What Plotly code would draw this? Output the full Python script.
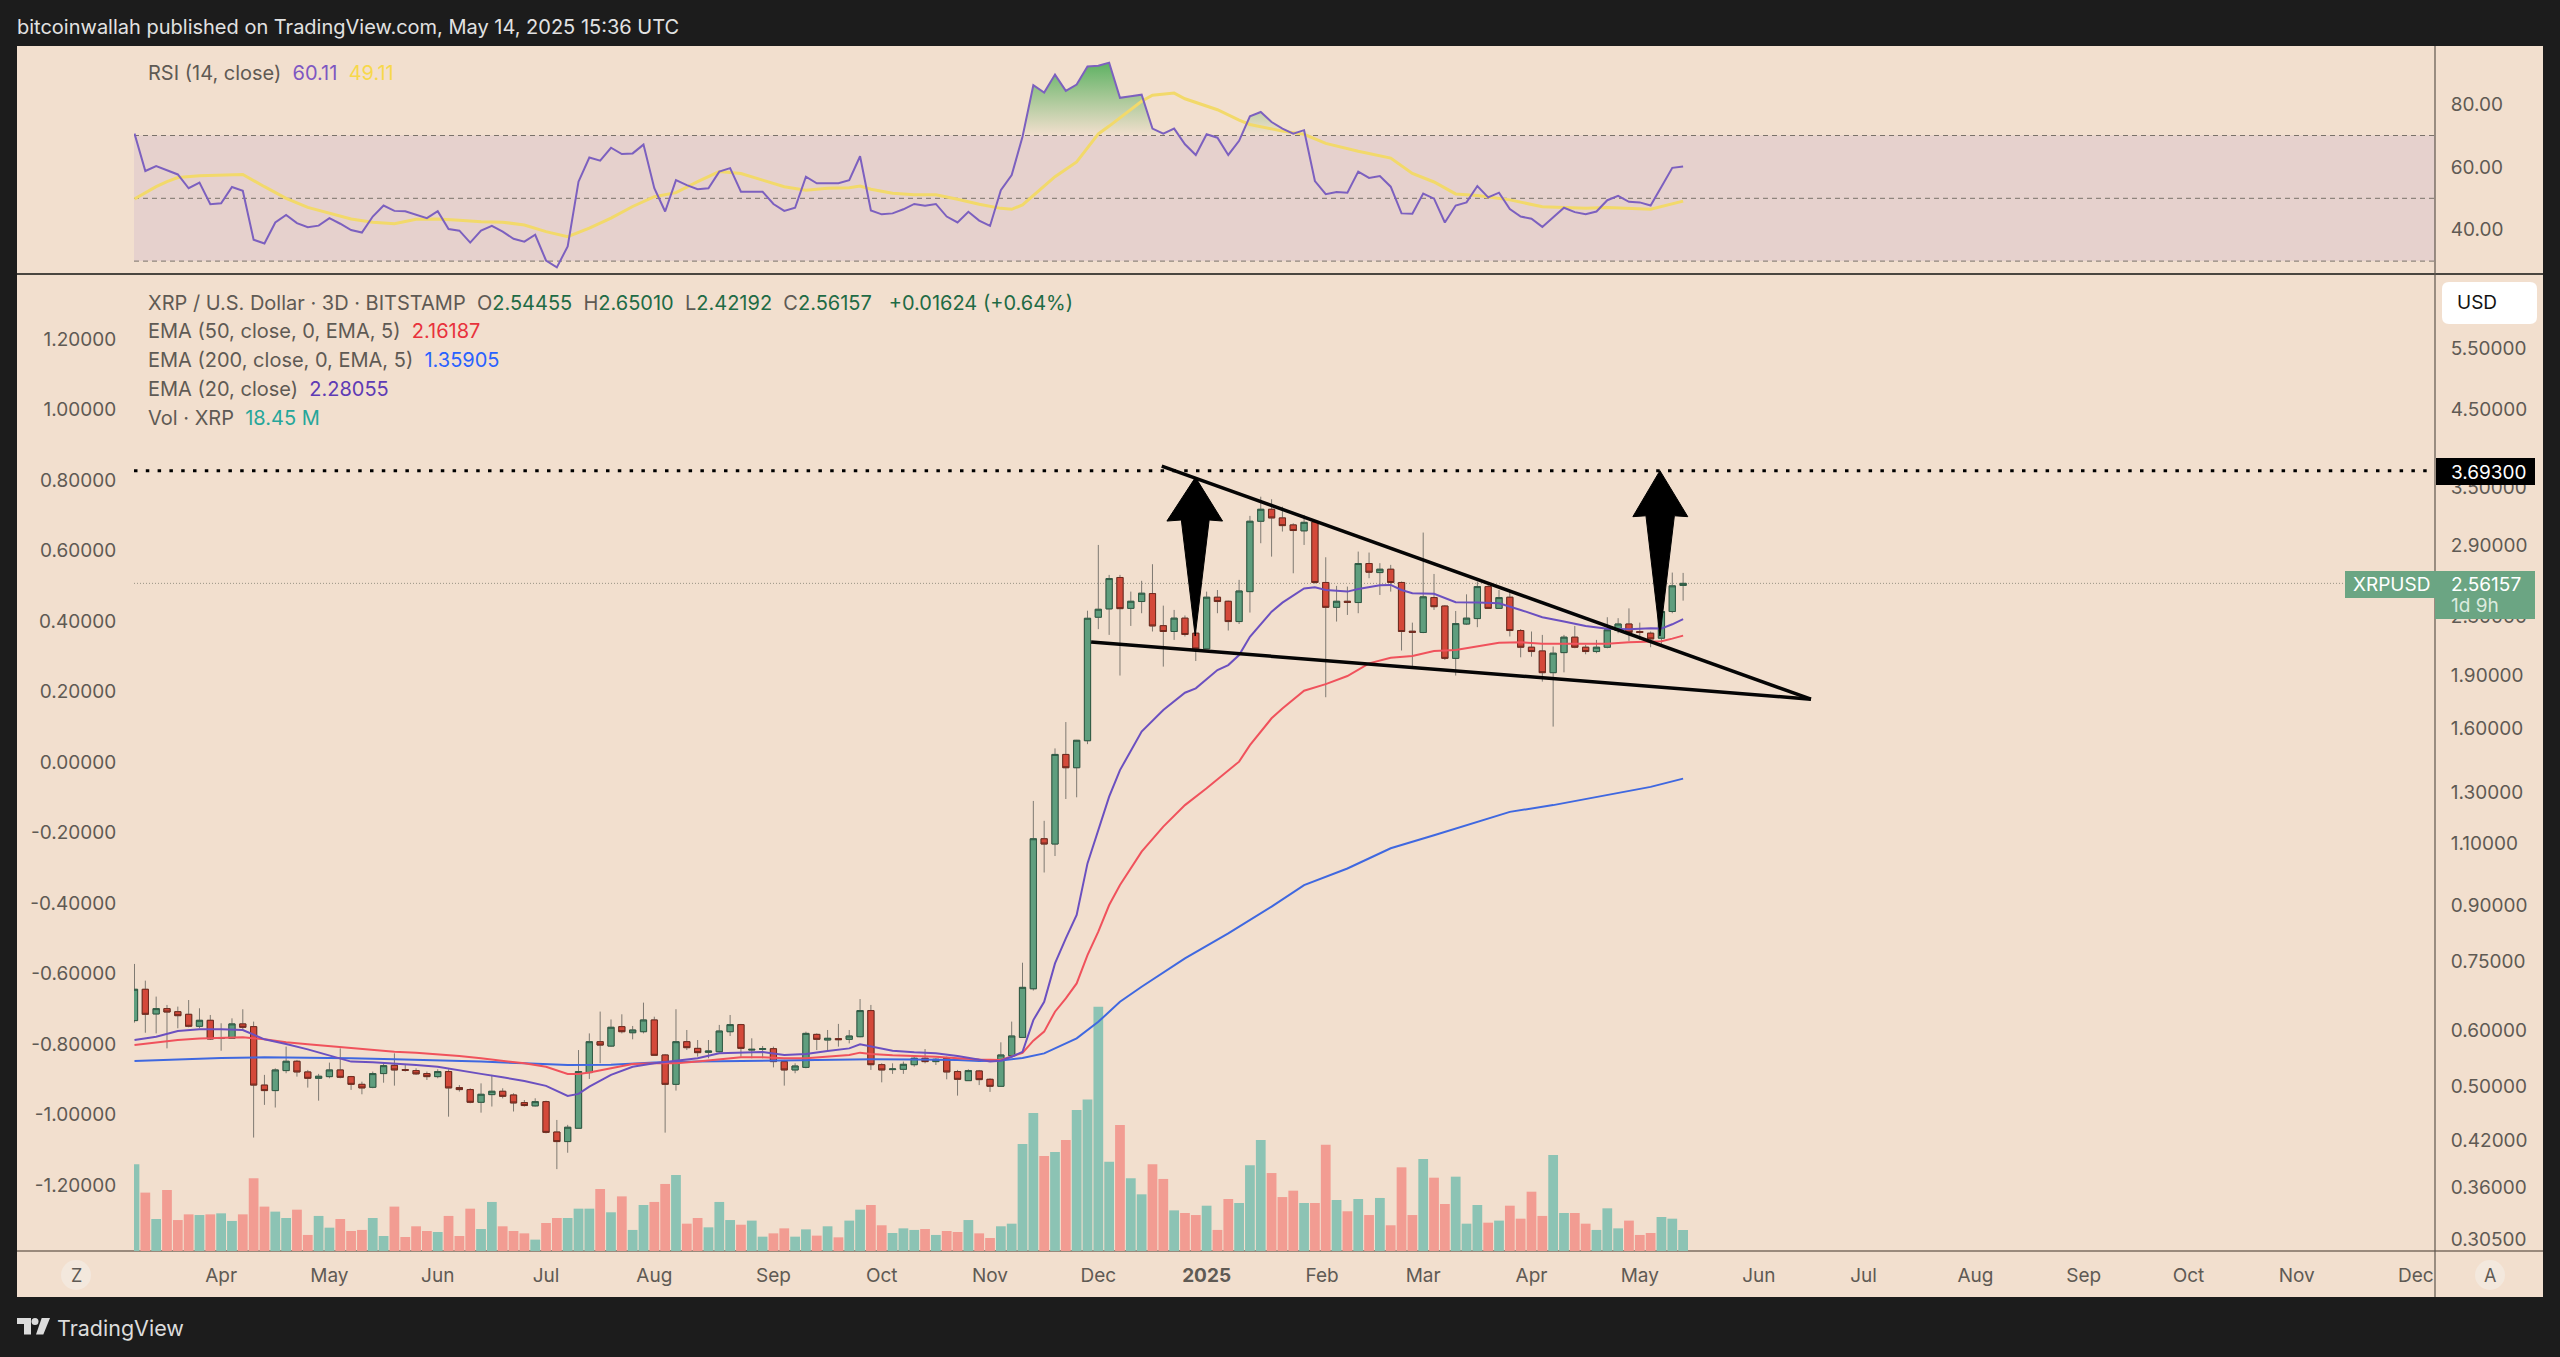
import pandas as pd
import plotly.graph_objects as go

# ---------- data ----------
first_bar = "2024-03-09"

opens = [
.6195,.6858,.633,.6441,.6377,.6323,.6082,.6201,.5845,.5849,
.6129,.6075,.5025,.4936,.5267,.5429,.5244,.5137,.5165,.5278,
.5165,.5037,.4989,.5216,.5358,.5284,.5267,.5216,.5165,.5250,
.4984,.4952,.4752,.4872,.4925,.4866,.4747,.4697,.4762,.4315,
.4183,.4368,.5233,.5785,.5703,.6075,.5956,.5976,.6208,.5541,
.5037,.5785,.5661,.5589,.5600,.5976,.6115,.5630,.5643,.5655,
.5423,.5278,.5322,.5924,.5817,.5843,.5830,.5880,.6400,.5369,
.5284,.5289,.5369,.5482,.5423,.5482,.5250,.5098,.5261,.5120,
.5005,.5529,.5866,.687,1.118,1.099,1.470,1.408,1.537,2.295,
2.358,2.611,2.362,2.415,2.478,2.233,2.191,2.288,2.179,2.071,
2.449,2.417,2.263,2.494,3.134,3.258,3.168,3.097,3.038,3.127,
2.569,2.370,2.417,2.407,2.732,2.653,2.682,2.569,2.193,2.184,
2.446,2.380,2.008,2.245,2.285,2.535,2.362,2.449,2.198,2.082,
2.057,1.917,2.046,2.151,2.082,2.053,2.082,2.198,2.245,2.191,
2.179,2.144,2.338,2.54455]

highs = [
.7446,.7053,.6697,.6518,.6483,.6623,.6448,.6309,.6142,.6241,
.6427,.6175,.5194,.5306,.5693,.5452,.5278,.5211,.5405,.5661,
.5177,.5081,.5250,.5393,.5571,.5364,.5306,.5250,.5289,.5289,
.5025,.4973,.5053,.5194,.4973,.4893,.4787,.4814,.4777,.4487,
.4416,.5630,.5943,.6379,.6218,.6323,.6088,.6567,.6274,.5559,
.6428,.6009,.5817,.5817,.6109,.6309,.6129,.5849,.5705,.5693,
.5452,.5393,.5976,.5943,.6009,.6129,.6009,.6644,.6518,.5393,
.5393,.5423,.5511,.5649,.5482,.5511,.5278,.5289,.5278,.5137,
.5773,.6175,.7476,1.264,1.185,1.499,1.633,1.541,2.344,2.902,
2.633,2.633,2.494,2.583,2.726,2.383,2.350,2.308,2.191,2.494,
2.507,2.422,2.591,3.189,3.394,3.366,3.286,3.113,3.199,3.147,
2.788,2.541,2.535,2.840,2.831,2.735,2.720,2.577,2.255,3.021,
2.641,2.388,2.342,2.472,2.577,2.549,2.507,2.507,2.208,2.191,
2.167,2.087,2.167,2.231,2.098,2.132,2.295,2.288,2.362,2.255,
2.191,2.427,2.653,2.6501]

lows = [
.6155,.5956,.5943,.5661,.6042,.6062,.6042,.5817,.5618,.5840,
.6009,.4238,.4712,.4672,.5222,.5165,.4984,.4777,.5137,.5137,
.4947,.4877,.4974,.5064,.5016,.5250,.5194,.5109,.5137,.4535,
.4920,.4737,.4595,.4687,.4813,.4612,.4687,.4687,.4296,.3825,
.4034,.4368,.5126,.5393,.5690,.5943,.5830,.5943,.5526,.4306,
.4936,.5630,.5512,.5482,.5583,.5893,.5512,.5482,.5482,.5322,
.5016,.5222,.5306,.5630,.5630,.5693,.5754,.5868,.5278,.5070,
.5211,.5211,.5334,.5393,.5364,.5120,.4856,.5092,.5025,.4915,
.5000,.5512,.5866,.683,1.002,1.057,1.272,1.279,1.520,2.208,
2.167,1.899,2.231,2.325,2.191,1.955,2.132,2.156,1.991,2.069,
2.325,2.198,2.245,2.330,2.918,2.794,3.031,2.647,2.902,2.557,
1.770,2.263,2.312,2.325,2.605,2.467,2.494,2.060,1.945,2.179,
2.350,1.998,1.899,2.238,2.222,2.358,2.358,2.156,2.015,2.019,
1.862,1.609,1.919,2.075,2.035,2.042,2.075,2.179,2.125,2.132,
2.082,2.105,2.325,2.42192]

closes = [
.6858,.6323,.6441,.637,.6295,.6082,.6201,.5836,.5855,.6129,
.6062,.5025,.4936,.5278,.5429,.5244,.5137,.5171,.5278,.5154,
.5037,.4979,.5216,.5352,.5278,.5272,.5211,.5165,.5250,.4979,
.4952,.4752,.4877,.4925,.4845,.4742,.4702,.4762,.4310,.4183,
.4382,.5250,.5785,.5722,.6062,.5976,.6009,.6208,.5535,.5037,
.5785,.5674,.5583,.5612,.5989,.6115,.5661,.5643,.5655,.5423,
.5278,.5346,.5943,.5830,.5849,.5824,.5893,.6400,.5369,.5278,
.5295,.5375,.5482,.5423,.5464,.5244,.5120,.5267,.5115,.5005,
.5541,.5893,.6901,1.118,1.099,1.470,1.408,1.539,2.287,2.355,
2.602,2.360,2.417,2.481,2.231,2.191,2.288,2.170,2.071,2.449,
2.415,2.263,2.499,3.134,3.258,3.168,3.090,3.041,3.123,2.569,
2.370,2.417,2.409,2.732,2.656,2.682,2.569,2.191,2.186,2.452,
2.375,2.008,2.248,2.288,2.535,2.362,2.446,2.198,2.082,2.053,
1.917,2.042,2.151,2.082,2.053,2.082,2.203,2.245,2.184,2.184,
2.139,2.338,2.541,2.56157]

volumes = [
76.2,51.3,28.1,53.6,27.2,32.2,31.6,32.2,33.1,26.4,
32.2,63.9,39.0,34.6,29.0,36.3,14.1,30.8,20.5,28.1,
17.6,18.5,29.0,13.2,39.0,12.3,21.7,17.6,16.7,30.8,
13.2,37.2,19.3,43.1,21.7,17.6,15.5,10.0,24.6,29.0,
29.0,37.2,37.2,54.5,34.0,48.0,18.5,40.4,43.1,58.9,
66.8,24.0,29.0,20.8,43.1,27.2,23.1,26.7,12.6,15.5,
19.9,12.6,19.0,13.5,21.7,12.0,26.7,36.3,40.4,22.6,
15.8,19.9,18.5,19.3,14.1,17.6,16.7,27.2,15.5,11.4,
21.7,24.0,94.0,121.3,83.5,87.0,97.5,123.9,133.0,214.7,
78.5,110.7,63.9,49.8,76.2,63.3,35.7,33.4,31.6,39.8,
18.5,45.7,42.2,75.3,97.5,68.5,47.4,53.0,42.2,42.2,
93.4,44.8,34.9,45.7,31.6,46.6,22.6,73.5,31.6,80.8,
64.4,41.3,65.3,24.0,40.4,24.9,26.7,39.8,28.4,52.1,
30.8,84.4,33.4,33.4,24.0,18.5,37.5,19.9,26.7,14.1,
15.8,29.9,28.4,18.45]

rsi = [
70.6,58.7,60.3,59.0,57.6,53.2,55.0,48.1,48.4,53.6,
52.4,36.8,35.6,42.3,44.7,42.1,40.8,41.3,43.7,41.9,
39.9,39.1,44.2,47.7,46.0,45.9,44.8,43.7,45.9,40.2,
39.7,35.9,39.7,41.2,39.4,37.1,36.2,38.4,30.2,28.0,
34.7,55.3,63.0,62.0,66.1,64.1,64.3,67.1,53.2,45.8,
55.8,54.2,52.9,53.2,58.5,59.6,52.1,52.0,52.1,48.2,
46.0,47.0,56.9,54.8,54.8,54.8,55.8,63.4,46.1,44.9,
45.2,46.5,48.2,47.6,48.2,44.2,42.3,45.7,42.9,41.2,
52.6,57.4,69.6,86.0,83.7,89.4,84.2,86.2,92.0,92.2,
93.2,82.0,82.5,83.0,72.2,70.6,72.2,67.2,63.8,70.4,
69.3,63.8,68.3,76.1,77.5,74.3,72.2,70.6,71.7,55.5,
51.3,52.0,51.8,58.5,56.5,57.1,53.7,45.2,45.1,51.5,
49.9,42.3,47.7,48.7,53.9,50.3,51.8,46.6,44.2,43.5,
40.9,44.0,47.0,45.6,44.9,45.8,49.4,50.8,48.9,48.7,
47.7,53.7,59.7,60.11]

rsi_ma_bar = [0,2,3,4,6,8,10,12,14,16,18,20,22,24,26,28,30,32,34,36,38,40,42,44,46,48,50,52,54,56,58,60,62,64,66,67,68,70,72,74,76,78,80,81,82,85,87,89,90,93,94,96,97,100,102,103,106,108,110,113,116,118,120,122,124,127,130,132,134,136,140,143]
rsi_ma = [49.8,53.7,55.3,56.6,57.2,57.3,57.6,53.7,50.0,47.1,45.2,43.4,42.4,41.9,43.3,43.4,43.0,42.5,42.4,41.5,39.4,37.8,40.5,43.7,47.4,50.5,51.8,55.3,58.5,57.9,55.8,53.7,52.6,53.2,53.4,53.9,52.9,51.6,51.1,51.1,49.7,48.1,46.8,46.5,47.9,56.9,61.6,70.5,73.0,80.9,82.8,83.5,81.7,78.2,74.9,73.5,71.4,70.4,67.5,65.0,62.8,57.9,55.2,51.4,50.9,49.5,47.3,47.1,46.8,47.1,46.5,49.11]

ema20_bar = [0,2,4,6,8,10,12,14,16,18,20,22,24,26,28,30,32,34,36,38,39,40,41,42,44,46,48,50,52,54,56,58,60,62,64,66,67,68,70,72,74,76,78,79,80,81,82,83,84,85,86,87,88,89,90,91,93,95,97,98,100,101,102,103,105,106,108,109,110,112,113,115,116,117,118,120,121,122,124,126,128,130,132,134,136,138,140,141,142,143]
ema20 = [.5817,.5880,.5989,.6022,.6022,.6009,.5830,.5743,.5643,.5535,.5423,.5411,.5393,.5364,.5334,.5278,.5211,.5154,.5092,.5012,.4930,.4851,.4883,.5000,.5194,.5334,.5393,.5441,.5482,.5571,.5589,.5595,.5541,.5559,.5612,.5661,.5736,.5693,.5618,.5589,.5571,.5523,.5464,.5423,.5438,.551,.5598,.6206,.6585,.7460,.8090,.8729,1.032,1.150,1.282,1.397,1.583,1.698,1.796,1.822,1.933,1.965,2.030,2.154,2.337,2.406,2.520,2.530,2.507,2.494,2.515,2.546,2.549,2.507,2.481,2.476,2.442,2.410,2.407,2.402,2.350,2.295,2.263,2.231,2.210,2.208,2.214,2.212,2.243,2.28055]

ema50_bar = [0,2,4,6,8,10,12,14,16,18,20,22,24,26,28,30,32,34,36,38,39,40,41,42,44,46,48,50,52,54,56,58,60,62,64,66,67,68,70,72,74,76,78,80,82,83,84,85,86,87,88,89,90,91,93,95,97,99,101,102,103,105,106,108,110,111,112,114,116,118,120,122,124,126,128,130,132,134,136,138,140,141,142,143]
ema50 = [.5723,.5767,.5817,.5843,.5855,.5868,.5830,.5773,.5736,.5705,.5674,.5630,.5600,.5583,.5559,.5523,.5482,.5441,.5393,.5334,.5278,.5211,.5211,.5233,.5306,.5381,.5393,.5393,.5423,.5464,.5500,.5500,.5482,.5482,.5511,.5541,.5583,.5559,.5535,.5523,.5511,.5482,.5458,.5450,.5580,.5804,.5977,.6377,.6658,.6990,.7664,.8268,.9015,.9619,1.072,1.163,1.247,1.317,1.397,1.436,1.515,1.653,1.707,1.808,1.847,1.872,1.896,1.976,2.012,2.023,2.057,2.063,2.090,2.113,2.116,2.105,2.105,2.105,2.105,2.116,2.121,2.123,2.141,2.16187]

ema200_bar = [0,4,8,12,16,20,24,28,32,36,40,44,48,52,56,60,64,68,72,76,78,80,82,84,87,89,91,93,97,101,105,108,112,116,120,124,127,131,136,140,143]
ema200 = [.5432,.5464,.5488,.5500,.5494,.5482,.5464,.5447,.5423,.5393,.5364,.5370,.5405,.5423,.5435,.5441,.5447,.5464,.5458,.5452,.5435,.5441,.5488,.557,.5848,.6171,.6585,.6915,.7581,.8223,.8967,.9619,1.015,1.084,1.131,1.181,1.220,1.247,1.288,1.323,1.35905]

resistance_price = 3.693
last_price = 2.56157
rsi_levels = [30, 50, 70]

wedge_top_x = ["2024-12-18 14:00", "2025-06-16 10:00"]
wedge_top_y = [3.749, 1.759]
wedge_low_x = ["2024-11-29 00:00", "2025-06-16 10:00"]
wedge_low_y = [2.118, 1.759]

arrow1_x = ["2024-12-27 22:00","2024-12-20 00:00","2024-12-24 00:00","2024-12-27 20:00","2024-12-31 17:00","2025-01-04 10:00","2024-12-27 22:00"]
arrow1_y = [3.614,3.136,3.147,2.159,3.147,3.136,3.614]
arrow2_x = ["2025-05-05 14:00","2025-04-28 02:00","2025-05-01 17:00","2025-05-05 14:00","2025-05-09 14:00","2025-05-13 07:00","2025-05-05 14:00"]
arrow2_y = [3.693,3.181,3.19,2.159,3.19,3.181,3.693]

month_labels = ["Apr","May","Jun","Jul","Aug","Sep","Oct","Nov","Dec","<b>2025</b>","Feb","Mar","Apr","May","Jun","Jul","Aug","Sep","Oct","Nov","Dec"]
month_dates = ["2024-04-02","2024-05-02","2024-06-01","2024-07-01","2024-07-31","2024-09-02","2024-10-02","2024-11-01","2024-12-01","2024-12-31",
               "2025-02-01","2025-03-01","2025-03-31","2025-04-30","2025-06-02","2025-07-01","2025-08-01","2025-08-31","2025-09-29","2025-10-29","2025-12-01"]
right_ticks = [5.5,4.5,3.5,2.9,2.3,1.9,1.6,1.3,1.1,0.9,0.75,0.6,0.5,0.42,0.36,0.305]
left_ticks = [1.2,1.0,0.8,0.6,0.4,0.2,0.0,-0.2,-0.4,-0.6,-0.8,-1.0,-1.2]
rsi_ticks = [80,60,40]

# ---------- styling ----------
W, H = 2560, 1357
DARK = "#1C1C1C"
PANEL = "#F2DFCE"
TXT = "#5F5A54"
FONT = "Inter, 'Open Sans', sans-serif"
GREEN, RED = "#5F9E7E", "#D4493A"
GREEN_D, RED_D = "#2F5A44", "#6E2A1E"
VOL_G, VOL_R = "#8CC3B4", "#F29C92"
PLOT_L, PLOT_R, SPLIT, BASE, TOP, BOTTOM, PANEL_L, PANEL_R = 134, 2435, 274, 1251, 46, 1297, 17, 2543

def px(x): return x / W
def py(y): return 1 - y / H

dates = pd.date_range(first_bar, periods=len(closes), freq="3D")
x_of = lambda idx: [dates[i] for i in idx]

fig = go.Figure()

# volume (base axis, drawn first)
fig.add_trace(go.Bar(x=dates, y=volumes, marker=dict(color=[VOL_G if c >= o else VOL_R for o, c in zip(opens, closes)], line=dict(width=0)),
                     xaxis="x", yaxis="y", hoverinfo="skip"))
# left scale carrier
fig.add_trace(go.Scatter(x=[dates[0], dates[-1]], y=[left_ticks[0], left_ticks[-1]], mode="lines", line=dict(color="rgba(0,0,0,0)"),
                         xaxis="x", yaxis="y3", hoverinfo="skip"))
# wicks, then bodies
fig.add_trace(go.Candlestick(x=dates, open=opens, high=highs, low=lows, close=closes, xaxis="x", yaxis="y2", hoverinfo="skip",
                             increasing=dict(line=dict(color="#7F7A72", width=1), fillcolor=GREEN),
                             decreasing=dict(line=dict(color="#7F7A72", width=1), fillcolor=RED)))
fig.add_trace(go.Candlestick(x=dates, open=opens, close=closes,
                             high=[max(o, c) for o, c in zip(opens, closes)], low=[min(o, c) for o, c in zip(opens, closes)],
                             xaxis="x", yaxis="y2", hoverinfo="skip",
                             increasing=dict(line=dict(color=GREEN_D, width=1), fillcolor=GREEN),
                             decreasing=dict(line=dict(color=RED_D, width=1), fillcolor=RED)))
# EMAs
for idx, vals, col in [(ema200_bar, ema200, "#3F68E0"), (ema50_bar, ema50, "#F0525C"), (ema20_bar, ema20, "#6B50C0")]:
    fig.add_trace(go.Scatter(x=x_of(idx), y=vals, mode="lines", line=dict(color=col, width=2), xaxis="x", yaxis="y2", hoverinfo="skip"))
# drawings
fig.add_trace(go.Scatter(x=wedge_top_x, y=wedge_top_y, mode="lines", line=dict(color="#050505", width=3.5), xaxis="x", yaxis="y2", hoverinfo="skip"))
fig.add_trace(go.Scatter(x=wedge_low_x, y=wedge_low_y, mode="lines", line=dict(color="#050505", width=3.5), xaxis="x", yaxis="y2", hoverinfo="skip"))
for ax, ay in [(arrow1_x, arrow1_y), (arrow2_x, arrow2_y)]:
    fig.add_trace(go.Scatter(x=ax, y=ay, mode="lines", fill="toself", fillcolor="#000000", line=dict(color="#000000", width=1),
                             xaxis="x", yaxis="y2", hoverinfo="skip"))
# RSI
fig.add_trace(go.Scatter(x=dates, y=[70] * len(rsi), mode="lines", line=dict(color="rgba(0,0,0,0)"), xaxis="x2", yaxis="y4", hoverinfo="skip"))
fig.add_trace(go.Scatter(x=dates, y=[max(v, 70) for v in rsi], mode="lines", line=dict(color="rgba(0,0,0,0)"), fill="tonexty",
                         fillgradient=dict(type="vertical", start=70, stop=93,
                                           colorscale=[[0, "rgba(100,180,100,0)"], [1, "rgba(95,178,100,1)"]]),
                         xaxis="x2", yaxis="y4", hoverinfo="skip"))
fig.add_trace(go.Scatter(x=x_of(rsi_ma_bar), y=rsi_ma, mode="lines", line=dict(color="#F2D96A", width=3), xaxis="x2", yaxis="y4", hoverinfo="skip"))
fig.add_trace(go.Scatter(x=dates, y=rsi, mode="lines", line=dict(color="#7C60BF", width=2), xaxis="x2", yaxis="y4", hoverinfo="skip"))

# ---------- shapes ----------
def rect(x0, y0, x1, y1, fill, layer="below"):
    return dict(type="rect", xref="paper", yref="paper", x0=px(x0), x1=px(x1), y0=py(y0), y1=py(y1),
                fillcolor=fill, line=dict(width=0), layer=layer)

def rrect(x0, y0, x1, y1, r, fill, layer="above"):
    X0, X1, Y0, Y1 = px(x0), px(x1), py(y0), py(y1)
    rx, ry = r / W, r / H
    path = (f"M{X0+rx},{Y0} L{X1-rx},{Y0} Q{X1},{Y0} {X1},{Y0-ry} L{X1},{Y1+ry} Q{X1},{Y1} {X1-rx},{Y1} "
            f"L{X0+rx},{Y1} Q{X0},{Y1} {X0},{Y1+ry} L{X0},{Y0-ry} Q{X0},{Y0} {X0+rx},{Y0} Z")
    return dict(type="path", xref="paper", yref="paper", path=path, fillcolor=fill, line=dict(width=0), layer=layer)

def hline(y, x0, x1, col, w, layer="below"):
    return dict(type="line", xref="paper", yref="paper", x0=px(x0), x1=px(x1), y0=py(y), y1=py(y), line=dict(color=col, width=w), layer=layer)

def vline(x, y0, y1, col, w):
    return dict(type="line", xref="paper", yref="paper", x0=px(x), x1=px(x), y0=py(y0), y1=py(y1), line=dict(color=col, width=w), layer="below")

def circle(cx, cy, r, fill):
    return dict(type="circle", xref="paper", yref="paper", x0=px(cx - r), x1=px(cx + r), y0=py(cy - r), y1=py(cy + r),
                fillcolor=fill, line=dict(width=0), layer="below")

def poly(points, fill):
    path = "M" + " L".join(f"{px(a)},{py(b)}" for a, b in points) + " Z"
    return dict(type="path", xref="paper", yref="paper", path=path, fillcolor=fill, line=dict(width=0), layer="above")

shapes = [rect(PANEL_L, TOP, PANEL_R, BOTTOM, PANEL),
          dict(type="rect", xref="paper", yref="y4", x0=px(PLOT_L), x1=px(PLOT_R), y0=rsi_levels[0], y1=rsi_levels[2],
               fillcolor="rgba(126,87,194,0.10)", line=dict(width=0), layer="below")]
for lv in rsi_levels:
    shapes.append(dict(type="line", xref="paper", yref="y4", x0=px(PLOT_L), x1=px(PLOT_R), y0=lv, y1=lv,
                       line=dict(color="#7A726A", width=1, dash="5px,4px"), layer="below"))
shapes += [hline(SPLIT, PANEL_L, PANEL_R, "#4A4640", 2),
           hline(BASE, PANEL_L, PANEL_R, "#7C6E60", 1.5),
           vline(PLOT_R, TOP, BOTTOM, "#5E564E", 1.2),
           circle(76, 1275, 15, "#F3E8DD"), circle(2490, 1275, 15, "#F3E8DD"),
           dict(type="line", xref="paper", yref="y2", x0=px(PLOT_L), x1=px(PLOT_R), y0=last_price, y1=last_price,
                line=dict(color="#9A9486", width=1, dash="1px,2px"), layer="below"),
           dict(type="line", xref="paper", yref="y2", x0=px(PLOT_L), x1=px(PLOT_R), y0=resistance_price, y1=resistance_price,
                line=dict(color="#000000", width=3, dash="3.5px,8.3px"), layer="above"),
           rrect(2442, 282, 2537, 324, 7, "#FFFFFF"),
           rect(2436, 458, 2535, 485, "#000000", "above"),
           rect(2345, 571, 2435, 598, "#6BA583", "above"),
           rect(2435, 571, 2535, 619, "#6BA583", "above"),
           poly([(17, 1318), (31, 1318), (31, 1334.5), (24, 1334.5), (24, 1324), (17, 1324)], "#DCDCDC"),
           poly([(41.7, 1318), (50, 1318), (43.3, 1334.5), (36, 1334.5)], "#DCDCDC"),
           dict(type="circle", xref="paper", yref="paper", x0=px(31.5), x1=px(38.5), y0=py(1318), y1=py(1325),
                fillcolor="#DCDCDC", line=dict(width=0), layer="above")]

# ---------- text ----------
SZ = 20
def ann(x, y, text, size=SZ, color=TXT, xa="left"):
    return dict(xref="paper", yref="paper", x=px(x), y=py(y), text=text, showarrow=False, xanchor=xa, yanchor="middle",
                font=dict(size=size, color=color, family=FONT), align="left", borderpad=0, borderwidth=0)

def sp(t, c): return f'<span style="color:{c}">{t}</span>'

VAL = "#1F6B45"
annotations = [
    ann(17, 27, "bitcoinwallah published on TradingView.com, May 14, 2025 15:36 UTC", 20, "#E2E2E2"),
    ann(148, 73, "RSI (14, close)  " + sp("60.11", "#7E57C2") + "  " + sp("49.11", "#F7D84B")),
    ann(148, 303, "XRP / U.S. Dollar · 3D · BITSTAMP  O" + sp("2.54455", VAL) + "  H" + sp("2.65010", VAL) + "  L" + sp("2.42192", VAL)
        + "  C" + sp("2.56157", VAL) + "&nbsp;&nbsp;&nbsp;" + sp("+0.01624 (+0.64%)", VAL)),
    ann(148, 331, "EMA (50, close, 0, EMA, 5)  " + sp("2.16187", "#E8323C")),
    ann(148, 360, "EMA (200, close, 0, EMA, 5)  " + sp("1.35905", "#2962FF")),
    ann(148, 389, "EMA (20, close)  " + sp("2.28055", "#5E3BB5")),
    ann(148, 418, "Vol · XRP  " + sp("18.45 M", "#26A69A")),
    ann(2457, 303, "USD", 19, "#131313"),
    ann(2451, 472, "3.69300", 19, "#FFFFFF"),
    ann(2353, 584, "XRPUSD", 19, "#FFFFFF"),
    ann(2451, 584, "2.56157", 19, "#FFFFFF"),
    ann(2451, 606, "1d 9h", 19, "#DCEBDF"),
    ann(76, 1275, "Z", 18, "#5F5A54", "center"),
    ann(2490, 1275, "A", 18, "#5F5A54", "center"),
    ann(57, 1328, "TradingView", 21.5, "#DCDCDC"),
]

x_range = ["2024-03-08 20:40", "2025-12-06 07:00"]
dom_x = [px(PLOT_L), px(PLOT_R)]
tick_font = dict(size=19, color=TXT, family=FONT)

fig.update_layout(
    width=W, height=H, margin=dict(l=0, r=0, t=0, b=0), paper_bgcolor=DARK, plot_bgcolor="rgba(0,0,0,0)",
    showlegend=False, bargap=0.1, boxgap=0.18, hovermode=False, shapes=shapes, annotations=annotations,
    font=dict(family=FONT),
    xaxis=dict(domain=dom_x, range=x_range, type="date", anchor="y", tickmode="array", tickvals=month_dates, ticktext=month_labels,
               tickfont=tick_font, ticks="outside", ticklen=7, tickcolor="rgba(0,0,0,0)", showgrid=False, zeroline=False, showline=False,
               rangeslider=dict(visible=False), tickangle=0),
    xaxis2=dict(domain=dom_x, range=x_range, type="date", anchor="y4", visible=False, rangeslider=dict(visible=False)),
    yaxis=dict(domain=[py(BASE), py(SPLIT)], range=[0, 858.4], anchor="x", visible=False),
    yaxis2=dict(domain=[py(BASE), py(SPLIT)], type="log", range=[-0.5328, 0.8447], overlaying="y", side="right", anchor="x",
                tickmode="array", tickvals=right_ticks, ticktext=[f"{v:.5f}" for v in right_ticks], tickfont=tick_font,
                ticks="outside", ticklen=11, tickcolor="rgba(0,0,0,0)", showgrid=False, zeroline=False, showline=False),
    yaxis3=dict(domain=[py(BASE), py(SPLIT)], range=[-1.3872, 1.3844], overlaying="y", side="left", anchor="x",
                tickmode="array", tickvals=left_ticks, ticktext=[f"{v:.5f}" for v in left_ticks], tickfont=tick_font,
                ticks="outside", ticklen=13, tickcolor="rgba(0,0,0,0)", showgrid=False, zeroline=False, showline=False),
    yaxis4=dict(domain=[py(SPLIT), py(TOP)], range=[25.9, 98.5], side="right", anchor="x2",
                tickmode="array", tickvals=rsi_ticks, ticktext=[f"{v:.2f}" for v in rsi_ticks], tickfont=tick_font,
                ticks="outside", ticklen=11, tickcolor="rgba(0,0,0,0)", showgrid=False, zeroline=False, showline=False),
)

fig.write_html("out.html", config=dict(displayModeBar=False), post_script="document.body.style.margin='0';document.body.style.background='#1C1C1C';")
